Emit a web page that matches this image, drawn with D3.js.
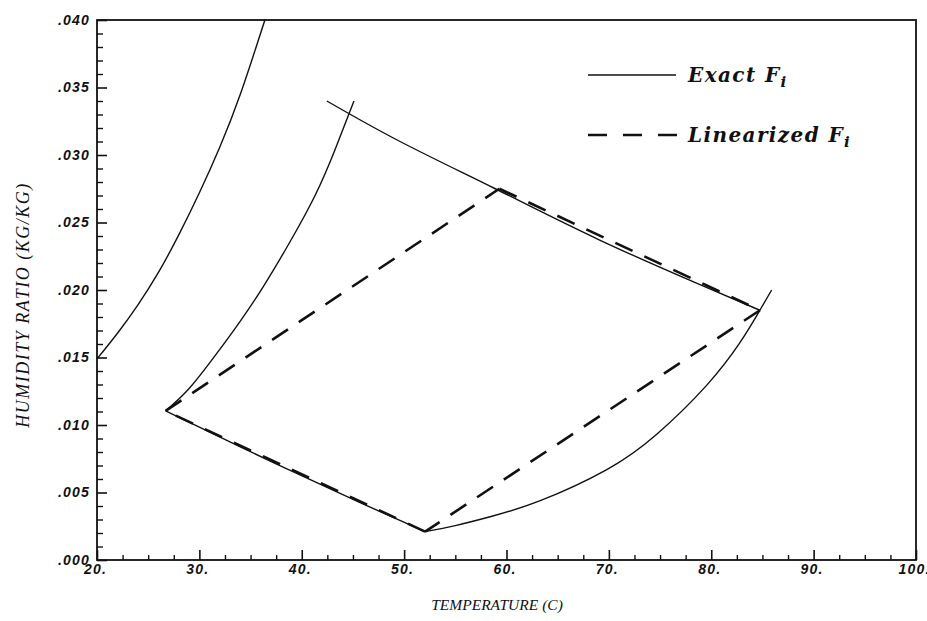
<!DOCTYPE html>
<html><head><meta charset="utf-8">
<script src="https://cdn.jsdelivr.net/npm/d3@7"></script>
<style>body{margin:0;background:#fff}svg{display:block}</style>
</head><body>
<svg id="chart" width="927" height="621"></svg>
<script>
// ---- data (temperature C, humidity ratio kg/kg) ----
const xTickValues = [20, 30, 40, 50, 60, 70, 80, 90, 100];
const xTickLabels = ["20.", "30.", "40.", "50.", "60.", "70.", "80.", "90.", "100."];
const yTickValues = [0, 0.005, 0.010, 0.015, 0.020, 0.025, 0.030, 0.035, 0.040];
const yTickLabels = [".000", ".005", ".010", ".015", ".020", ".025", ".030", ".035", ".040"];

const exactCurveLeft = [[20.0, .0149], [22.0, .0168], [24.0, .0189], [26.0, .0213], [28.0, .0241], [30.0, .0272], [32.0, .0306], [34.0, .0345], [36.4, .0400]];
const exactCurveInner = [[26.7, .01105], [29.0, .0127], [31.7, .0153], [34.0, .0177], [36.2, .0202], [38.8, .0235], [41.3, .0270], [43.2, .0303], [45.1, .0340]];
const exactCurveTop = [[42.45, .0340], [49.6, .0310], [58.9, .0275], [69.1, .0237], [78.9, .0204], [84.75, .0185]];
const exactCurveRight = [[52.05, .0021], [55.0, .00255], [58.4, .0032], [63.3, .0044], [69.8, .0067], [74.65, .0093], [79.5, .0129], [82.8, .0161], [84.75, .0185], [85.9, .0200]];
const exactCurveBottom = [[26.7, .01105], [34.0, .00838], [39.4, .00645], [45.7, .00425], [52.05, .0021]];

const linearCornerT = [26.7, 59.3, 84.75, 52.05];
const linearCornerW = [.01105, .0275, .0185, .0021];

const legendLabels = ["Exact F", "Linearized F"];
const legendSub = "i";
const xTitle = "TEMPERATURE (C)";
const yTitle = "HUMIDITY RATIO (KG/KG)";

// ---- drawing ----
const svg = d3.select("#chart");
const L = 97, R = 916, T = 20, B = 560;
const x = d3.scaleLinear().domain([20, 100]).range([L, R]);
const y = d3.scaleLinear().domain([0, 0.04]).range([B, T]);

const tickFont = "'Liberation Sans', Arial, sans-serif";
const serif = "'Liberation Serif', 'Times New Roman', serif";

// minor ticks
const xMinor = d3.range(20, 100.01, 2.5).filter(v => Math.abs(v % 10) > 0.01);
const yMinor = d3.range(0, 0.04001, 0.001).filter(v => Math.abs((v * 1000) % 5) > 0.01 && Math.abs((v * 1000) % 5 - 5) > 0.01);

svg.append("g").attr("transform", `translate(0,${B})`)
  .call(d3.axisBottom(x).tickValues(xMinor).tickSizeInner(-5).tickSizeOuter(0).tickFormat(""))
  .call(g => g.select(".domain").remove())
  .call(g => g.selectAll("line").attr("stroke", "#111").attr("stroke-width", 1.4));
svg.append("g").attr("transform", `translate(${L},0)`)
  .call(d3.axisLeft(y).tickValues(yMinor).tickSizeInner(-6).tickSizeOuter(0).tickFormat(""))
  .call(g => g.select(".domain").remove())
  .call(g => g.selectAll("line").attr("stroke", "#111").attr("stroke-width", 1.4));

// major ticks + labels
svg.append("g").attr("transform", `translate(0,${B})`)
  .call(d3.axisBottom(x).tickValues(xTickValues).tickSizeInner(-10).tickSizeOuter(0).tickPadding(4)
    .tickFormat((d, i) => xTickLabels[i]))
  .call(g => g.select(".domain").remove())
  .call(g => g.selectAll("line").attr("stroke", "#111").attr("stroke-width", 1.6))
  .call(g => g.selectAll("text").attr("font-family", tickFont).attr("font-size", 14)
    .attr("font-style", "italic").attr("font-weight", "bold").attr("letter-spacing", "1.2px")
    .attr("fill", "#111").attr("dx", "-2"));
svg.append("g").attr("transform", `translate(${L},0)`)
  .call(d3.axisLeft(y).tickValues(yTickValues).tickSizeInner(-10).tickSizeOuter(0).tickPadding(7)
    .tickFormat((d, i) => yTickLabels[i]))
  .call(g => g.select(".domain").remove())
  .call(g => g.selectAll("line").attr("stroke", "#111").attr("stroke-width", 1.6))
  .call(g => g.selectAll("text").attr("font-family", tickFont).attr("font-size", 14)
    .attr("font-style", "italic").attr("font-weight", "bold").attr("letter-spacing", "1.2px")
    .attr("fill", "#111"));

// frame
svg.append("rect").attr("x", L).attr("y", T).attr("width", R - L).attr("height", B - T)
  .attr("fill", "none").attr("stroke", "#111").attr("stroke-width", 1.8);

// axis titles
svg.append("text").attr("x", 497).attr("y", 610).attr("text-anchor", "middle")
  .attr("font-family", serif).attr("font-style", "italic").attr("font-size", 15.5)
  .attr("fill", "#111").text(xTitle);
svg.append("text").attr("transform", "translate(29,305) rotate(-90)").attr("text-anchor", "middle")
  .attr("font-family", serif).attr("font-style", "italic").attr("font-size", 18)
  .attr("letter-spacing", "1.5px").attr("fill", "#111").text(yTitle);

// exact curves
const line = d3.line().x(d => x(d[0])).y(d => y(d[1])).curve(d3.curveNatural);
[exactCurveLeft, exactCurveInner, exactCurveTop, exactCurveRight, exactCurveBottom].forEach(c => {
  svg.append("path").attr("d", line(c)).attr("fill", "none").attr("stroke", "#111")
    .attr("stroke-width", 1.4);
});

// linearized (dashed) segments
const corners = linearCornerT.map((t, i) => [t, linearCornerW[i]]);
const straight = d3.line().x(d => x(d[0])).y(d => y(d[1]));
corners.forEach((c, i) => {
  const n = corners[(i + 1) % corners.length];
  svg.append("path").attr("d", straight([c, n])).attr("fill", "none").attr("stroke", "#111")
    .attr("stroke-width", 2.6).attr("stroke-dasharray", "19,13");
});

// legend
const legY = [75, 135];
svg.append("line").attr("x1", 588).attr("x2", 676).attr("y1", legY[0]).attr("y2", legY[0])
  .attr("stroke", "#111").attr("stroke-width", 1.4);
svg.append("line").attr("x1", 588).attr("x2", 679).attr("y1", legY[1]).attr("y2", legY[1])
  .attr("stroke", "#111").attr("stroke-width", 2.6).attr("stroke-dasharray", "19,16");
legendLabels.forEach((lab, i) => {
  const t = svg.append("text").attr("x", 688).attr("y", legY[i] + 7)
    .attr("font-family", "'DejaVu Serif', serif").attr("font-style", "italic").attr("font-weight", "bold")
    .attr("font-size", 20).attr("letter-spacing", "1.4px").attr("fill", "#111");
  t.append("tspan").text(lab);
  t.append("tspan").attr("dy", 5).attr("font-size", 15).text(legendSub);
});
</script>
</body></html>
